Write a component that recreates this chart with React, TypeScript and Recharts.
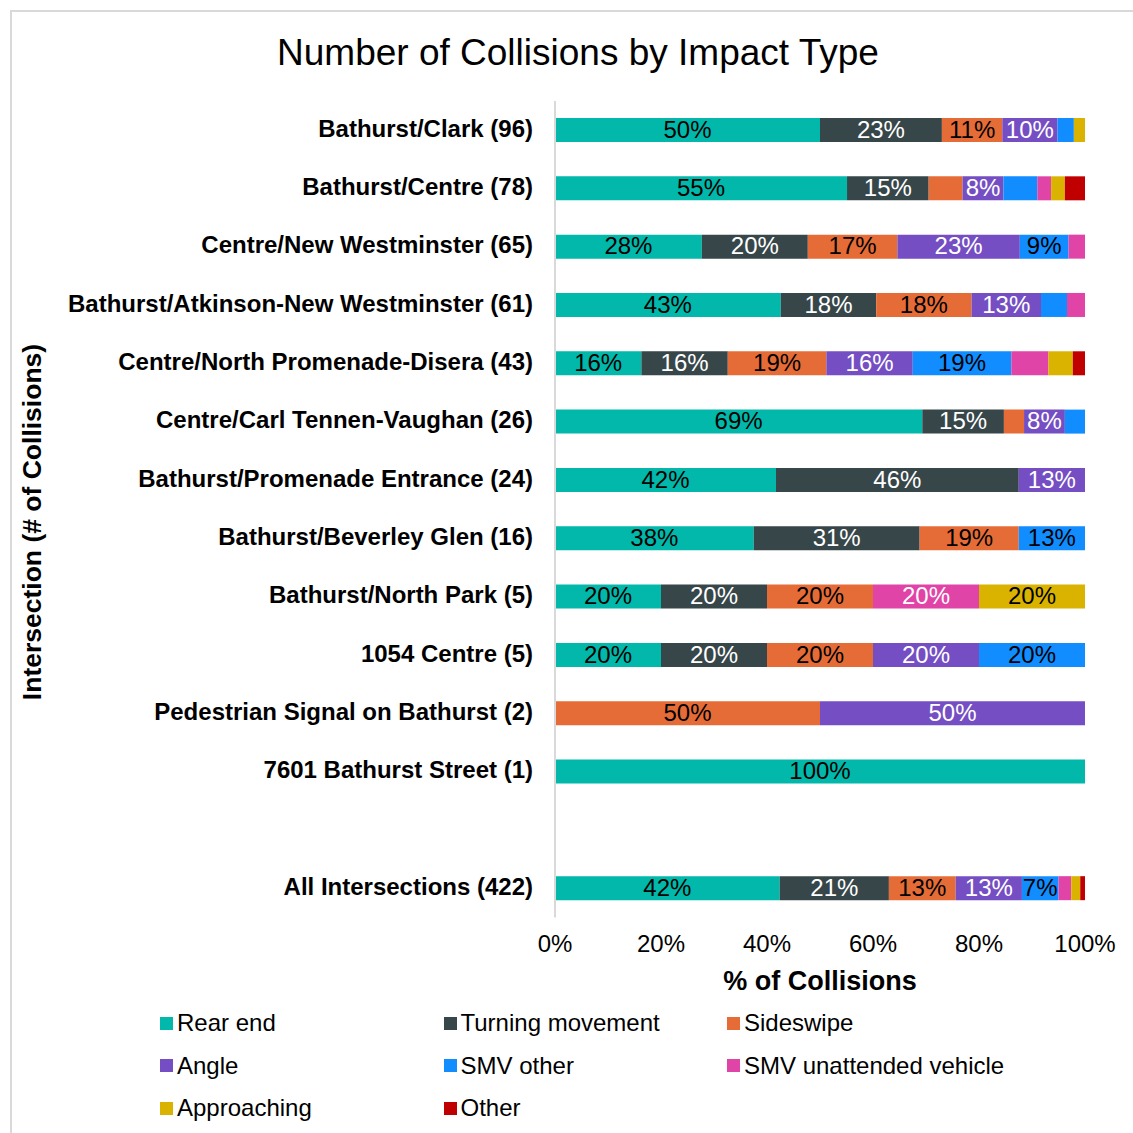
import React from 'react';
import { BarChart, Bar, XAxis, YAxis, LabelList, Legend } from 'recharts';

const FONT = '"Liberation Sans", Arial, sans-serif';

const categories = [
  'Bathurst/Clark (96)',
  'Bathurst/Centre (78)',
  'Centre/New Westminster (65)',
  'Bathurst/Atkinson-New Westminster (61)',
  'Centre/North Promenade-Disera (43)',
  'Centre/Carl Tennen-Vaughan (26)',
  'Bathurst/Promenade Entrance (24)',
  'Bathurst/Beverley Glen (16)',
  'Bathurst/North Park (5)',
  '1054 Centre (5)',
  'Pedestrian Signal on Bathurst (2)',
  '7601 Bathurst Street (1)',
  '',
  'All Intersections (422)',
];

const seriesNames = [
  'Rear end',
  'Turning movement',
  'Sideswipe',
  'Angle',
  'SMV other',
  'SMV unattended vehicle',
  'Approaching',
  'Other',
];

const seriesColors = ['#01B8AA', '#374649', '#E66C37', '#744EC2', '#118DFF', '#E044A7', '#D9B300', '#C00000'];
const labelColors = ['#000000', '#FFFFFF', '#000000', '#FFFFFF', '#000000', '#FFFFFF', '#000000', '#FFFFFF'];

// percent of collisions per intersection
const rearEnd = [50.0, 55.1, 27.7, 42.6, 16.3, 69.3, 41.7, 37.5, 20, 20, 0, 100, null, 42.4];
const turningMovement = [23.0, 15.4, 20.0, 18.0, 16.3, 15.4, 45.8, 31.3, 20, 20, 0, 0, null, 20.6];
const sideswipe = [11.4, 6.4, 16.9, 18.0, 18.6, 3.8, 0, 18.7, 20, 20, 50, 0, null, 12.6];
const angle = [10.4, 7.7, 23.1, 13.1, 16.3, 7.7, 12.5, 0, 0, 20, 50, 0, null, 12.5];
const smvOther = [3.1, 6.4, 9.2, 4.9, 18.6, 3.8, 0, 12.5, 0, 20, 0, 0, null, 6.9];
const smvUnattended = [0, 2.6, 3.1, 3.4, 7.0, 0, 0, 0, 20, 0, 0, 0, null, 2.4];
const approaching = [2.1, 2.6, 0, 0, 4.6, 0, 0, 0, 20, 0, 0, 0, null, 1.7];
const other = [0, 3.8, 0, 0, 2.3, 0, 0, 0, 0, 0, 0, 0, null, 0.9];

const xTicks = [0, 20, 40, 60, 80, 100];

const hiddenLabels: [string, string][] = [['Centre/North Promenade-Disera (43)', 'SMV unattended vehicle']];

const seriesValues = [rearEnd, turningMovement, sideswipe, angle, smvOther, smvUnattended, approaching, other];

const data = categories.map((name, i) => {
  const row: any = { name };
  seriesValues.forEach((vals, s) => {
    row['s' + s] = vals[i];
  });
  return row;
});

const labelText = (si: number) => (row: any) => {
  const v = row ? row['s' + si] : null;
  if (v == null || v < 6.5) return '';
  if (hiddenLabels.some((h) => h[0] === row.name && h[1] === seriesNames[si])) return '';
  return Math.round(v) + '%';
};

const makeLabel = (si: number) => (props: any) => {
  const { x, y, width, height, value } = props;
  if (!value) return null;
  return (
    <text
      x={Number(x) + Number(width) / 2}
      y={Number(y) + Number(height) / 2}
      dy="0.32em"
      textAnchor="middle"
      fontSize={24}
      fontFamily={FONT}
      fill={labelColors[si]}
    >
      {value}
    </text>
  );
};

const YTitle = () => (
  <text
    x={41}
    y={522}
    transform="rotate(-90 41 522)"
    textAnchor="middle"
    fontSize={26.5}
    fontWeight="bold"
    fontFamily={FONT}
    fill="#000"
  >
    Intersection (# of Collisions)
  </text>
);

const XTitle = () => (
  <text x={820} y={990} textAnchor="middle" fontSize={27} fontWeight="bold" fontFamily={FONT} fill="#000">
    % of Collisions
  </text>
);

const LegendContent = () => (
  <div
    style={{
      display: 'grid',
      gridTemplateColumns: '283.5px 283.5px 283.5px',
      fontFamily: FONT,
      fontSize: 24,
      color: '#000',
    }}
  >
    {seriesNames.map((n, i) => (
      <div key={n} style={{ display: 'flex', alignItems: 'center', height: 42.5, whiteSpace: 'nowrap' }}>
        <span style={{ display: 'inline-block', width: 13, height: 13, background: seriesColors[i], marginRight: 4 }} />
        <span>{n}</span>
      </div>
    ))}
  </div>
);

export default function App() {
  return (
    <div style={{ position: 'absolute', left: 0, top: 0, width: 1133, height: 1133, background: '#fff', overflow: 'hidden' }}>
      <div
        style={{
          position: 'absolute',
          left: 10,
          top: 10,
          width: 1200,
          height: 1200,
          borderTop: '2px solid #D9D9D9',
          borderLeft: '2px solid #D9D9D9',
        }}
      />
      <div
        style={{
          position: 'absolute',
          left: 0,
          top: 34,
          width: 1156,
          textAlign: 'center',
          fontFamily: FONT,
          fontSize: 37,
          lineHeight: '37px',
          color: '#000',
        }}
      >
        Number of Collisions by Impact Type
      </div>
      <div style={{ position: 'absolute', left: 0, top: 0 }}>
        <BarChart
          width={1133}
          height={1133}
          data={data}
          layout="vertical"
          margin={{ top: 101, right: 48, bottom: 155.5, left: 0 }}
          barSize={24}
        >
          <XAxis
            type="number"
            domain={[0, 100]}
            ticks={xTicks}
            allowDataOverflow
            tickFormatter={(v: number) => v + '%'}
            axisLine={false}
            tickLine={false}
            tickMargin={11}
            height={60}
            tick={{ fontSize: 24, fill: '#000', fontFamily: FONT }}
            label={<XTitle />}
          />
          <YAxis
            type="category"
            dataKey="name"
            width={555}
            interval={0}
            axisLine={{ stroke: '#D9D9D9', strokeWidth: 2 }}
            tickLine={false}
            tickMargin={16}
            tick={{ fontSize: 24, fill: '#000', fontWeight: 'bold', fontFamily: FONT, dy: -2 }}
            label={<YTitle />}
          />
          <Legend
            layout="horizontal"
            verticalAlign="middle"
            align="center"
            content={<LegendContent />}
            wrapperStyle={{ top: 1002, left: 160, width: 860, height: 130 }}
          />
          {seriesNames.map((n, i) => (
            <Bar key={n} dataKey={'s' + i} name={n} stackId="a" fill={seriesColors[i]} isAnimationActive={false}>
              <LabelList dataKey={labelText(i)} content={makeLabel(i)} />
            </Bar>
          ))}
        </BarChart>
      </div>
    </div>
  );
}
